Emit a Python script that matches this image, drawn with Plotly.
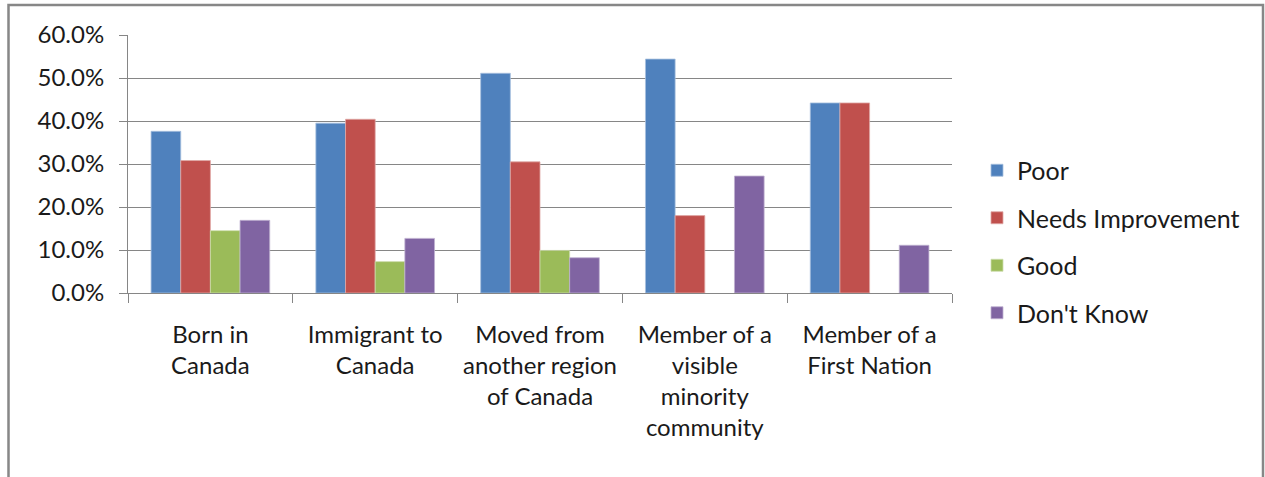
import plotly.graph_objects as go

categories = [
    "Born in<br>Canada",
    "Immigrant to<br>Canada",
    "Moved from<br>another region<br>of Canada",
    "Member of a<br>visible<br>minority<br>community",
    "Member of a<br>First Nation",
]
series_names = ["Poor", "Needs Improvement", "Good", "Don't Know"]
poor = [0.376, 0.395, 0.511, 0.544, 0.442]
needs_improvement = [0.308, 0.404, 0.305, 0.180, 0.442]
good = [0.145, 0.073, 0.099, None, None]
dont_know = [0.169, 0.127, 0.082, 0.272, 0.111]
y_ticks = [0.0, 0.1, 0.2, 0.3, 0.4, 0.5, 0.6]

colors = ["#4F81BD", "#C0504D", "#9BBB59", "#8064A2"]
outline = ["#A7C0DE", "#DFA8A6", "#CDDDAC", "#BFB1D0"]
values = [poor, needs_improvement, good, dont_know]

FONT = "Lato"
W, H = 1265, 477
L, R, T, B = 128, 313, 35, 184
pw, ph = W - L - R, H - T - B

fig = go.Figure()
for i, (name, vals) in enumerate(zip(series_names, values)):
    fig.add_trace(go.Bar(
        name=name, x=categories, y=vals,
        marker=dict(color=colors[i], line=dict(color=outline[i], width=0.8)),
        legendgroup=name,
    ))

def px_x(x):
    return (x - L) / pw

def px_y(y):
    return (H - B - y) / ph

fig.add_shape(type="rect", xref="paper", yref="paper",
              x0=px_x(8.5), x1=px_x(1263), y0=px_y(490), y1=px_y(5),
              line=dict(color="#878787", width=2.5), fillcolor="rgba(0,0,0,0)",
              layer="below")

fig.update_layout(
    width=W, height=H,
    margin=dict(l=L, r=R, t=T, b=B, pad=0),
    paper_bgcolor="white", plot_bgcolor="white",
    barmode="group", bargap=0.28, bargroupgap=0,
    font=dict(family=FONT, size=24, color="#1a1a1a"),
    showlegend=True,
    legend=dict(x=px_x(977), xanchor="left", y=px_y(241.5), yanchor="middle",
                font=dict(family=FONT, size=25, color="#1a1a1a"),
                tracegroupgap=12, itemwidth=30, bgcolor="rgba(0,0,0,0)"),
    xaxis=dict(
        showline=True, linecolor="#868686", linewidth=1,
        ticks="outside", tickson="boundaries", ticklen=9, tickcolor="#868686",
        tickfont=dict(family=FONT, size=24, color="#1a1a1a"),
        showgrid=False, ticklabelstandoff=20,
    ),
    yaxis=dict(
        range=[0, 0.6], tickvals=y_ticks, tickformat=".1%",
        showline=True, linecolor="#868686", linewidth=1,
        ticks="outside", ticklen=8, tickcolor="#868686",
        showgrid=True, gridcolor="#868686", gridwidth=1,
        zeroline=False,
        tickfont=dict(family=FONT, size=24, color="#1a1a1a"),
        ticklabelstandoff=10,
    ),
)

fig.write_html(
    "out.html",
    config={"displayModeBar": False},
    post_script="document.body.style.margin='0';document.body.style.overflow='hidden';",
)
